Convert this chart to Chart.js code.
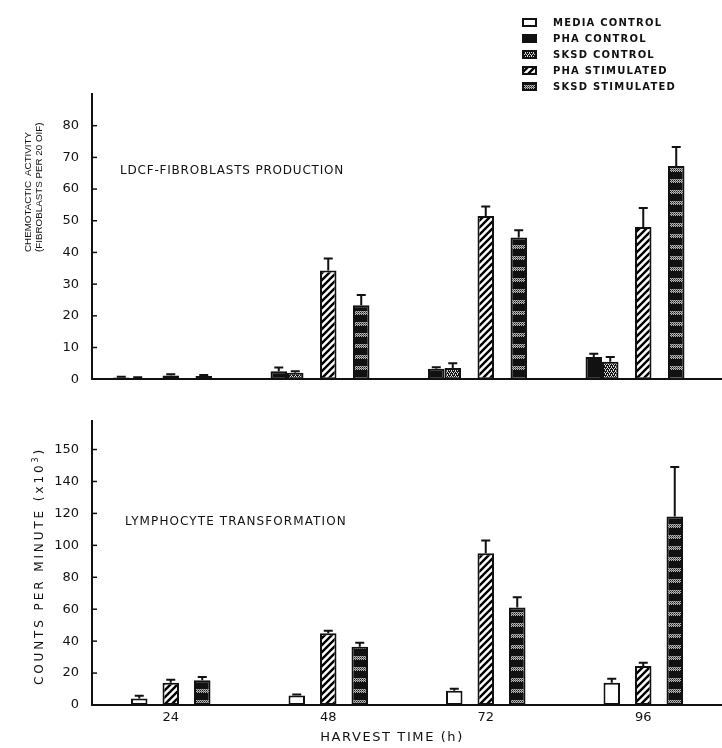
<!DOCTYPE html>
<html>
<head>
<meta charset="utf-8">
<script src="https://cdn.jsdelivr.net/npm/chart.js@4.4.0/dist/chart.umd.min.js"></script>
<style>
  body { margin: 0; width: 722px; height: 748px; overflow: hidden; position: relative; background: #fff;
         font-family: "DejaVu Sans", sans-serif; color: #111; }
  canvas.panel { position: absolute; left: 0; }
  #topChart { top: 0; }
  #bottomChart { top: 400px; }
  .txt { position: absolute; white-space: nowrap; line-height: 14px; }
  .rot { transform: translate(-50%, -50%) rotate(-90deg); }
  #legend { position: absolute; left: 522px; top: 14px; }
  #legend .row { display: flex; align-items: center; height: 16px; font-size: 10px; font-weight: bold; letter-spacing: 1.2px; }
  #legend canvas { margin-right: 16px; }
</style>
</head>
<body>
<canvas id="topChart" class="panel" width="722" height="400"></canvas>
<canvas id="bottomChart" class="panel" width="722" height="348"></canvas>
<div id="legend"></div>

<div class="txt rot" style="left:33px; top:187px; width:130px; text-align:left; font-family:'Liberation Sans',sans-serif; font-size:9.8px; line-height:11px;">CHEMOTACTIC&nbsp; ACTIVITY<br>(FIBROBLASTS PER 20 OIF)</div>
<div class="txt rot" style="left:37px; top:566px; font-size:12px; letter-spacing:2.9px;">COUNTS PER MINUTE (x10<sup style="font-size:8px">3</sup>)</div>
<div class="txt" style="left:120px; top:163px; font-size:12px; letter-spacing:0.8px;">LDCF-FIBROBLASTS PRODUCTION</div>
<div class="txt" style="left:125px; top:514px; font-size:12px; letter-spacing:1.1px;">LYMPHOCYTE TRANSFORMATION</div>
<div class="txt" style="left:392px; top:730px; font-size:13px; letter-spacing:1.6px; transform:translateX(-50%);">HARVEST TIME (h)</div>

<script>
// harvest times
const hours = ['24', '48', '72', '96'];

// LDCF production, fibroblasts per 20 OIF (mean, +SE)
const phaControl = [0.5, 2.5, 3.3, 7.0];
const phaControlErr = [0.3, 1.2, 0.5, 1.0];
const sksdControl = [0.4, 2.0, 3.5, 5.5];
const sksdControlErr = [0.2, 0.5, 1.5, 1.5];
const phaStim = [1.2, 34.3, 51.5, 48.0];
const phaStimErr = [0.4, 3.8, 3.0, 6.0];
const sksdStim = [1.0, 23.3, 44.7, 67.3];
const sksdStimErr = [0.3, 3.3, 2.3, 6.0];

// lymphocyte transformation, counts per minute x10^3
const lymMedia = [4.0, 6.0, 9.0, 14.0];
const lymMediaErr = [1.8, 0.6, 1.2, 2.5];
const lymPhaStim = [14.0, 45.0, 95.0, 24.5];
const lymPhaStimErr = [1.8, 1.5, 8.0, 2.0];
const lymSksdStim = [15.5, 36.5, 61.0, 118.0];
const lymSksdStimErr = [2.0, 2.5, 6.5, 31.0];

// axis ticks (the original figure labels the top tick of the lower panel "150")
const topTickValues = [0, 10, 20, 30, 40, 50, 60, 70, 80];
const bottomTickValues = [0, 20, 40, 60, 80, 100, 120, 140, 160];
const bottomTickLabels = ['0', '20', '40', '60', '80', '100', '120', '140', '150'];

const legendNames = ['MEDIA CONTROL', 'PHA CONTROL', 'SKSD CONTROL', 'PHA STIMULATED', 'SKSD STIMULATED'];

// fill patterns
function makePattern(w, h, paint) {
  const c = document.createElement('canvas');
  c.width = w; c.height = h;
  const g = c.getContext('2d');
  paint(g, w, h);
  return g.createPattern(c, 'repeat');
}

const hatch = makePattern(7, 7, (g, w, h) => {
  g.fillStyle = '#fff'; g.fillRect(0, 0, w, h);
  g.strokeStyle = '#000'; g.lineWidth = 2.4;
  g.beginPath();
  g.moveTo(-2, h + 2); g.lineTo(w + 2, -2);
  g.moveTo(-2, 2); g.lineTo(2, -2);
  g.moveTo(w - 2, h + 2); g.lineTo(w + 2, h - 2);
  g.stroke();
});

const checker = makePattern(4, 4, (g) => {
  g.fillStyle = '#111'; g.fillRect(0, 0, 4, 4);
  g.fillStyle = '#ddd';
  g.fillRect(0, 0, 1, 1); g.fillRect(2, 0, 1, 1);
  g.fillRect(1, 2, 1, 1); g.fillRect(3, 2, 1, 1);
  g.fillRect(1, 1, 1, 1); g.fillRect(3, 3, 1, 1);
});

const bands = makePattern(6, 11, (g) => {
  g.fillStyle = '#111'; g.fillRect(0, 0, 6, 11);
  g.fillStyle = '#bbb';
  for (let x = 0; x < 6; x += 2) { g.fillRect(x, 3, 1, 1); g.fillRect(x + 1, 4, 1, 1); g.fillRect(x, 5, 1, 1); g.fillRect(x + 1, 6, 1, 1); }
  g.fillStyle = '#666';
  for (let x = 1; x < 6; x += 2) { g.fillRect(x, 3, 1, 1); g.fillRect(x, 5, 1, 1); }
});

const fills = ['#fff', '#111', checker, hatch, bands];

function bar(data, errors, fill, catPct, barPct) {
  return {
    data, errors,
    backgroundColor: fill,
    borderColor: '#111',
    borderWidth: 2,
    borderSkipped: false,
    categoryPercentage: catPct,
    barPercentage: barPct
  };
}
function spacer(catPct) {
  return { data: [], categoryPercentage: catPct, barPercentage: 1 };
}

// one-sided error bars with a cap
const errorBars = {
  id: 'errorBars',
  afterDatasetsDraw(chart) {
    const ctx = chart.ctx;
    const y = chart.scales.y;
    ctx.save();
    ctx.strokeStyle = '#111';
    ctx.lineWidth = 2;
    chart.data.datasets.forEach((ds, i) => {
      if (!ds.errors) return;
      chart.getDatasetMeta(i).data.forEach((el, j) => {
        const v = ds.data[j];
        if (v == null) return;
        const top = y.getPixelForValue(v + ds.errors[j]);
        ctx.beginPath();
        ctx.moveTo(el.x, el.y);
        ctx.lineTo(el.x, top);
        ctx.moveTo(el.x - 4.5, top);
        ctx.lineTo(el.x + 4.5, top);
        ctx.stroke();
      });
    });
    ctx.restore();
  }
};

// small tick marks pointing into the plot
const inwardTicks = {
  id: 'inwardTicks',
  afterDraw(chart) {
    const { ctx, chartArea } = chart;
    const y = chart.scales.y;
    ctx.save();
    ctx.strokeStyle = '#111';
    ctx.lineWidth = 1.5;
    y.ticks.forEach(t => {
      if (t.value === 0) return;
      const py = y.getPixelForValue(t.value);
      ctx.beginPath();
      ctx.moveTo(chartArea.left, py);
      ctx.lineTo(chartArea.left + 5, py);
      ctx.stroke();
    });
    ctx.restore();
  }
};

const tickFont = { family: '"DejaVu Sans", sans-serif', size: 13 };

function yAxis(max, values, labels) {
  return {
    min: 0, max,
    grid: { display: false, drawTicks: false },
    border: { color: '#111', width: 2 },
    afterBuildTicks: s => { s.ticks = values.map(v => ({ value: v })); },
    ticks: {
      padding: 13, color: '#111', font: tickFont,
      callback: v => labels ? labels[values.indexOf(v)] : String(v)
    },
    afterFit: s => { s.width = 92; }
  };
}

// upper panel: PHA ctrl, SKSD ctrl, gap, PHA stim, gap, SKSD stim, gap
const topCat = 0.733;
new Chart(document.getElementById('topChart'), {
  type: 'bar',
  data: {
    labels: hours,
    datasets: [
      bar(phaControl, phaControlErr, fills[1], topCat, 1),
      bar(sksdControl, sksdControlErr, fills[2], topCat, 1),
      spacer(topCat),
      bar(phaStim, phaStimErr, fills[3], topCat, 1),
      spacer(topCat),
      bar(sksdStim, sksdStimErr, fills[4], topCat, 1),
      spacer(topCat)
    ]
  },
  options: {
    responsive: false,
    animation: false,
    layout: { padding: { top: 94, left: 0, right: 0, bottom: 0 } },
    plugins: { legend: { display: false }, tooltip: { enabled: false } },
    scales: {
      x: {
        grid: { display: false, drawTicks: false },
        border: { color: '#111', width: 2 },
        ticks: { display: false },
        afterFit: s => { s.height = 19; }
      },
      y: yAxis(90, topTickValues, null)
    }
  },
  plugins: [errorBars, inwardTicks]
});

// lower panel: media ctrl, PHA stim, SKSD stim
new Chart(document.getElementById('bottomChart'), {
  type: 'bar',
  data: {
    labels: hours,
    datasets: [
      bar(lymMedia, lymMediaErr, fills[0], 0.6, 0.524),
      bar(lymPhaStim, lymPhaStimErr, fills[3], 0.6, 0.524),
      bar(lymSksdStim, lymSksdStimErr, fills[4], 0.6, 0.524)
    ]
  },
  options: {
    responsive: false,
    animation: false,
    layout: { padding: { top: 18, left: 0, right: 0, bottom: 0 } },
    plugins: { legend: { display: false }, tooltip: { enabled: false } },
    scales: {
      x: {
        grid: { display: false, drawTicks: false },
        border: { color: '#111', width: 2 },
        ticks: { padding: 5, color: '#111', font: tickFont },
        afterFit: s => { s.height = 43; }
      },
      y: yAxis(178, bottomTickValues, bottomTickLabels)
    }
  },
  plugins: [errorBars, inwardTicks]
});

// legend
const legend = document.getElementById('legend');
legendNames.forEach((name, i) => {
  const row = document.createElement('div');
  row.className = 'row';
  const sw = document.createElement('canvas');
  sw.width = 15; sw.height = 9;
  const g = sw.getContext('2d');
  g.fillStyle = fills[i];
  g.fillRect(0, 0, 15, 9);
  g.strokeStyle = '#111'; g.lineWidth = 2;
  g.strokeRect(1, 1, 13, 7);
  row.appendChild(sw);
  const label = document.createElement('span');
  label.textContent = name;
  row.appendChild(label);
  legend.appendChild(row);
});
</script>
</body>
</html>
